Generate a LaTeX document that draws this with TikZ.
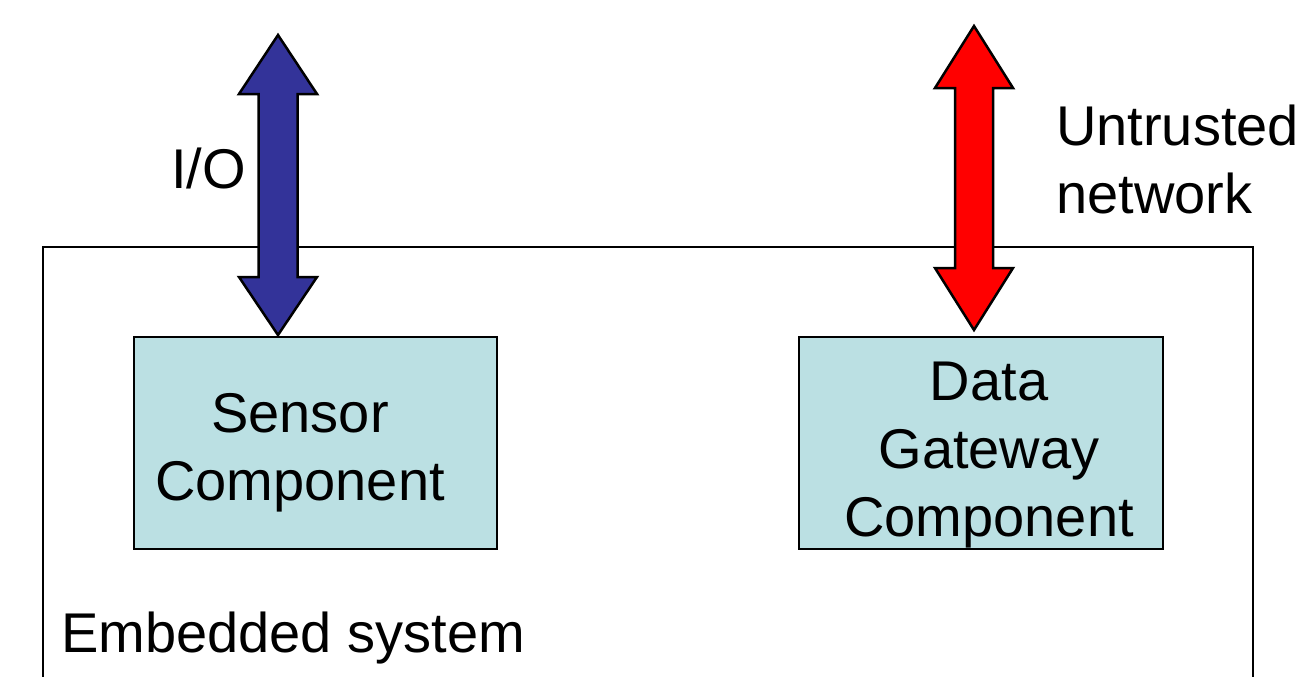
\documentclass[tikz,border=0pt]{standalone}
\usepackage{fontspec}
\setmainfont{Liberation Sans}
\definecolor{ioblue}{RGB}{51,51,153}
\definecolor{netred}{RGB}{255,0,0}
\definecolor{compfill}{RGB}{187,224,227}
\begin{document}
\begin{tikzpicture}[x=1pt,y=-1pt,
  label text/.style={font=\fontsize{56}{68}\selectfont, inner sep=0pt},
  component/.style={draw=black, line width=2pt, fill=compfill},
  blockarrow/.style={draw=black, line width=2.5pt, line join=miter}]
\useasboundingbox (0,0) rectangle (1301,677);

% the enclosing embedded system
\draw[line width=2pt] (43,700) -- (43,247) -- (1253,247) -- (1253,700);
\node[label text, anchor=base west] (sys) at (61,652) {Embedded system};

% components
\draw[component] (134,337) rectangle (497,549);
\coordinate (sensortop) at (278,337);
\node[label text, align=center] (sensor) at (300,453) {Sensor\\Component};

\draw[component] (799,337) rectangle (1163,549);
\coordinate (gatewaytop) at (974,330);
\node[label text, align=center] (gateway) at (989,455) {Data\\Gateway\\Component};

% I/O double arrow
\coordinate (iotip) at (278,35);
\filldraw[blockarrow, fill=ioblue]
  (iotip) -- (317,94) -- (297.5,94) -- (297.5,277) -- (317,277) -- (sensortop |- 0,335)
  -- (239,277) -- (258.5,277) -- (258.5,94) -- (239,94) -- cycle;
\node[label text, anchor=base west] (io) at (171,188) {I/O};

% untrusted network double arrow
\coordinate (nettip) at (974,26);
\filldraw[blockarrow, fill=netred]
  (nettip) -- (1013,88) -- (993,88) -- (993,268) -- (1013,268) -- (gatewaytop)
  -- (935,268) -- (955,268) -- (955,88) -- (935,88) -- cycle;
\node[label text, align=left, anchor=west] (net) at (1056,159.5) {Untrusted\\network};
\end{tikzpicture}
\end{document}
